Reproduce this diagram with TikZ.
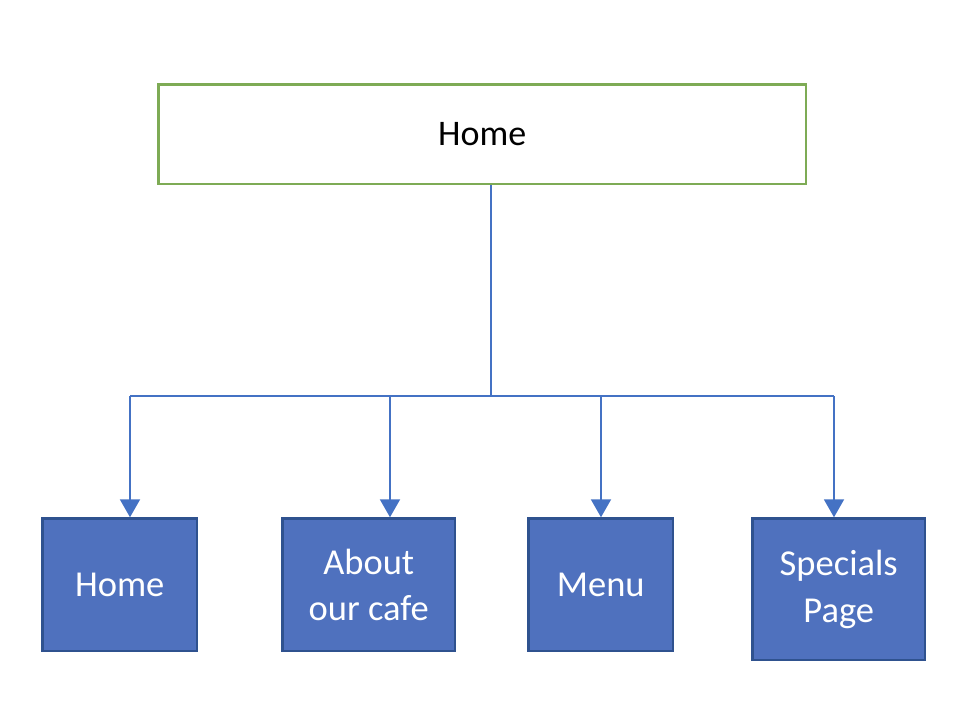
\documentclass[tikz,border=0pt]{standalone}
\usepackage{fontspec}
\setmainfont{Carlito}
\usetikzlibrary{arrows.meta}
\definecolor{topgreen}{HTML}{7EAB55}
\definecolor{conblue}{HTML}{4472C4}
\definecolor{boxfill}{HTML}{4F71BE}
\definecolor{boxedge}{HTML}{2F528F}
\begin{document}
\begin{tikzpicture}[x=1pt,y=-1pt,
  topbox/.style={draw=topgreen,line width=2.5pt,fill=white,anchor=north west,inner sep=0pt,
    minimum width=647.5pt,minimum height=99.5pt,font=\fontsize{36}{42}\selectfont},
  pagebox/.style={draw=boxedge,line width=2.5pt,fill=boxfill,anchor=north west,inner sep=0pt,
    text=white,align=center,font=\fontsize{36.5}{46.5}\selectfont},
  conn/.style={draw=conblue,line width=2pt},
  arr/.style={conn,-{Triangle[width=20pt,length=18pt]}}]
\useasboundingbox (0,0) rectangle (956,712);
\fill[white] (0,0) rectangle (956,712);
\node[topbox] (top) at (157.25,83.25) {Home};
\node[pagebox,minimum width=154.5pt,minimum height=132.5pt] (b1) at (41.25,517.25) {Home};
\node[pagebox,minimum width=172.5pt,minimum height=132.5pt] (b2) at (281.25,517.25) {About\\our cafe};
\node[pagebox,minimum width=144.5pt,minimum height=132.5pt] (b3) at (527.25,517.25) {Menu};
\node[pagebox,minimum width=172.5pt,minimum height=141.5pt] (b4) at (751.25,517.25) {Specials\\Page};
\coordinate (j) at (491,396);
\coordinate (c1) at (130,396);
\coordinate (c2) at (390,396);
\coordinate (c3) at (601,396);
\coordinate (c4) at (834,396);
\draw[conn] (top.south -| j) -- (j);
\draw[conn] (c1) -- (c4);
\draw[arr] (c1) -- (c1 |- b1.north);
\draw[arr] (c2) -- (c2 |- b2.north);
\draw[arr] (c3) -- (c3 |- b3.north);
\draw[arr] (c4) -- (c4 |- b4.north);
\end{tikzpicture}
\end{document}
